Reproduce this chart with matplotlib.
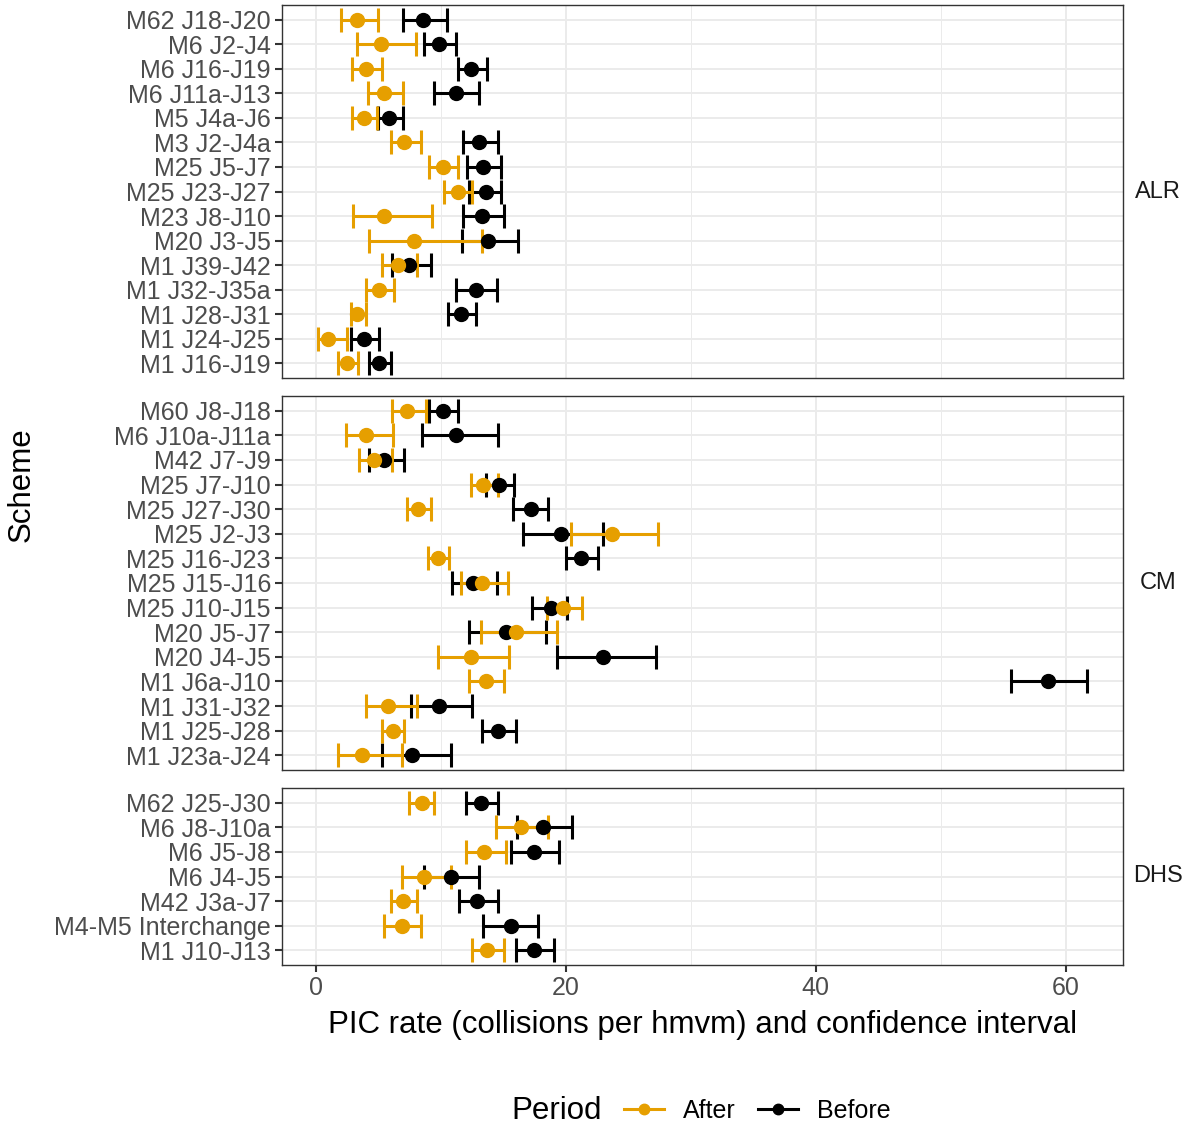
import matplotlib
matplotlib.use("Agg")
import matplotlib.pyplot as plt
from matplotlib.lines import Line2D
import numpy as np

plt.rcParams["font.family"] = ["Liberation Sans", "DejaVu Sans"]

# Scheme names per panel, listed top to bottom
alr_names = ["M62 J18-J20", "M6 J2-J4", "M6 J16-J19", "M6 J11a-J13", "M5 J4a-J6",
             "M3 J2-J4a", "M25 J5-J7", "M25 J23-J27", "M23 J8-J10", "M20 J3-J5",
             "M1 J39-J42", "M1 J32-J35a", "M1 J28-J31", "M1 J24-J25", "M1 J16-J19"]
alr_after = [3.3, 5.2, 4.0, 5.5, 3.9, 7.1, 10.2, 11.4, 5.5, 7.9, 6.6, 5.1, 3.3, 1.0, 2.5]
alr_after_lo = [2.0, 3.3, 2.9, 4.2, 2.9, 6.0, 9.1, 10.3, 3.0, 4.3, 5.3, 4.0, 2.8, 0.2, 1.8]
alr_after_hi = [5.0, 8.0, 5.3, 7.0, 4.9, 8.4, 11.4, 12.5, 9.3, 13.3, 8.1, 6.3, 4.0, 2.5, 3.4]
alr_before = [8.6, 9.9, 12.4, 11.2, 5.9, 13.1, 13.4, 13.6, 13.3, 13.8, 7.5, 12.8, 11.6, 3.9, 5.1]
alr_before_lo = [7.0, 8.7, 11.4, 9.5, 5.0, 11.8, 12.1, 12.3, 11.8, 11.7, 6.1, 11.2, 10.6, 2.8, 4.3]
alr_before_hi = [10.5, 11.2, 13.7, 13.1, 7.0, 14.6, 14.8, 14.8, 15.1, 16.2, 9.2, 14.5, 12.8, 5.1, 6.0]

cm_names = ["M60 J8-J18", "M6 J10a-J11a", "M42 J7-J9", "M25 J7-J10", "M25 J27-J30",
            "M25 J2-J3", "M25 J16-J23", "M25 J15-J16", "M25 J10-J15", "M20 J5-J7",
            "M20 J4-J5", "M1 J6a-J10", "M1 J31-J32", "M1 J25-J28", "M1 J23a-J24"]
cm_after = [7.3, 4.0, 4.7, 13.4, 8.2, 23.7, 9.8, 13.3, 19.8, 16.0, 12.4, 13.6, 5.8, 6.2, 3.7]
cm_after_lo = [6.1, 2.4, 3.5, 12.4, 7.3, 20.4, 9.0, 11.6, 18.5, 13.2, 9.8, 12.3, 4.0, 5.3, 1.8]
cm_after_hi = [8.8, 6.2, 6.1, 14.6, 9.2, 27.4, 10.7, 15.4, 21.3, 19.3, 15.5, 15.1, 8.1, 7.1, 6.9]
cm_before = [10.2, 11.2, 5.5, 14.7, 17.2, 19.6, 21.2, 12.6, 18.8, 15.2, 23.0, 58.6, 9.9, 14.6, 7.7]
cm_before_lo = [9.1, 8.5, 4.3, 13.6, 15.8, 16.6, 20.0, 10.9, 17.3, 12.3, 19.3, 55.6, 7.6, 13.3, 5.3]
cm_before_hi = [11.4, 14.6, 7.1, 15.9, 18.6, 23.0, 22.6, 14.5, 20.1, 18.4, 27.2, 61.7, 12.5, 16.0, 10.8]

dhs_names = ["M62 J25-J30", "M6 J8-J10a", "M6 J5-J8", "M6 J4-J5", "M42 J3a-J7",
             "M4-M5 Interchange", "M1 J10-J13"]
dhs_after = [8.5, 16.4, 13.5, 8.7, 7.0, 6.9, 13.7]
dhs_after_lo = [7.5, 14.4, 12.0, 6.9, 6.0, 5.5, 12.5]
dhs_after_hi = [9.5, 18.6, 15.2, 10.8, 8.1, 8.4, 15.1]
dhs_before = [13.2, 18.2, 17.5, 10.8, 12.9, 15.6, 17.5]
dhs_before_lo = [12.0, 16.1, 15.6, 8.7, 11.5, 13.4, 16.0]
dhs_before_hi = [14.6, 20.5, 19.5, 13.1, 14.6, 17.8, 19.1]

panels = [
    ("ALR", alr_names, (alr_after, alr_after_lo, alr_after_hi), (alr_before, alr_before_lo, alr_before_hi)),
    ("CM", cm_names, (cm_after, cm_after_lo, cm_after_hi), (cm_before, cm_before_lo, cm_before_hi)),
    ("DHS", dhs_names, (dhs_after, dhs_after_lo, dhs_after_hi), (dhs_before, dhs_before_lo, dhs_before_hi)),
]

col_after = "#E69F00"
col_before = "#000000"

W, H = 1194, 1131
fig = plt.figure(figsize=(W / 100, H / 100), dpi=100)

# panel extents in pixels (top, bottom)
left_px, right_px = 282, 1123
rows_px = [(5, 378), (396, 770), (788, 965)]

# shared x range
xlim = (-2.7, 64.6)

axes = []
for (label, names, after, before), (top, bot) in zip(panels, rows_px):
    ax = fig.add_axes([left_px / W, 1 - bot / H, (right_px - left_px) / W, (bot - top) / H])
    n = len(names)
    y = np.arange(n)[::-1]

    for vals, col in [(before, col_before), (after, col_after)]:
        pt, lo, hi = (np.array(v) for v in vals)
        ax.errorbar(pt, y, xerr=[pt - lo, hi - pt], fmt="o", color=col, ecolor=col,
                    markersize=10, elinewidth=2.2, capsize=8.3, capthick=2.2, zorder=3)

    ax.set_xlim(xlim)
    ax.set_ylim(-0.6, n - 0.4)
    ax.set_yticks(y)
    ax.set_yticklabels(names)
    ax.set_xticks([0, 20, 40, 60])
    ax.set_xticks([10, 30, 50], minor=True)
    ax.grid(True, which="major", color="#EBEBEB", linewidth=1.4, zorder=0)
    ax.grid(True, which="minor", axis="x", color="#EBEBEB", linewidth=0.7, zorder=0)
    ax.set_axisbelow(True)
    for s in ax.spines.values():
        s.set_color("#333333")
        s.set_linewidth(1.0)
    ax.tick_params(axis="y", which="major", labelsize=18, labelcolor="#4D4D4D",
                   color="#333333", length=5, width=1.5, pad=3)
    ax.tick_params(axis="x", which="minor", length=0)
    ax.tick_params(axis="x", which="major", labelsize=18, labelcolor="#4D4D4D",
                   color="#333333", length=5, width=1.5, pad=3)
    if label != "DHS":
        ax.tick_params(axis="x", which="major", labelbottom=False, length=0)
    ax.text(1158 / W, 1 - ((top + bot) / 2) / H, label, transform=fig.transFigure,
            ha="center", va="center", fontsize=17, color="#1A1A1A")
    axes.append(ax)

axes[-1].set_xlabel("PIC rate (collisions per hmvm) and confidence interval",
                    fontsize=22.5, color="black", labelpad=7)
fig.text(22 / W, 1 - 485 / H, "Scheme", rotation=90, ha="center", va="center",
         fontsize=22.5, color="black")

# legend at the bottom
fig.text(557 / W, 1 - 1111 / H, "Period", ha="center", va="center", fontsize=22.5)
handles = [Line2D([0], [0], color=col_after, marker="o", markersize=7.5, linewidth=2.2),
           Line2D([0], [0], color=col_before, marker="o", markersize=7.5, linewidth=2.2)]
fig.legend(handles, ["After", "Before"], loc="center", bbox_to_anchor=(757 / W, 1 - 1111 / H),
           ncol=2, frameon=False, fontsize=18, handlelength=1.6, columnspacing=0.9,
           handletextpad=0.75)

fig.savefig("out.png", dpi=100)
